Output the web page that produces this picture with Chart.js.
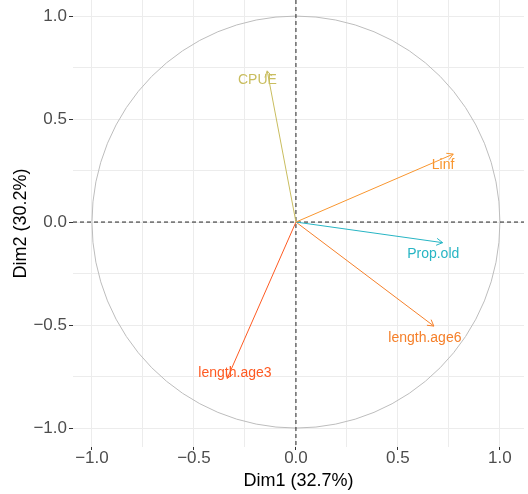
<!DOCTYPE html>
<html lang="en">
<head>
<meta charset="UTF-8">
<title>PCA - Variables</title>
<script src="https://cdn.jsdelivr.net/npm/chart.js@4.4.0/dist/chart.umd.min.js"></script>
<style>
  html, body { margin: 0; padding: 0; background: #fff; }
  #wrap { width: 528px; height: 494px; }
</style>
</head>
<body>
<div id="wrap"><canvas id="pcaChart" width="528" height="494"></canvas></div>
<script>
// variable coordinates on the first two dimensions
const varNames = ['CPUE', 'Linf', 'Prop.old', 'length.age6', 'length.age3'];
const dim1 = [-0.141, 0.771, 0.719, 0.676, -0.337];
const dim2 = [0.734, 0.330, -0.100, -0.505, -0.759];
// where the (repelled) labels sit
const labelDim1 = [-0.189, 0.721, 0.673, 0.632, -0.299];
const labelDim2 = [0.689, 0.277, -0.157, -0.562, -0.732];
const varColors = ['#c9bd5f', '#f9962f', '#27b5c4', '#f5802b', '#fe5a22'];
// grid positions (major ones get a label)
const gridValues = [-1, -0.75, -0.5, -0.25, 0, 0.25, 0.5, 0.75, 1];
const majorValues = [-1, -0.5, 0, 0.5, 1];
const xTitle = 'Dim1 (32.7%)';
const yTitle = 'Dim2 (30.2%)';

const isMajor = v => majorValues.some(m => Math.abs(m - v) < 1e-9);
const fmt = v => isMajor(v) ? (v < 0 ? '\u2212' : '') + Math.abs(v).toFixed(1) : '';

// correlation circle + dashed axes through the origin
const circlePlugin = {
    id: 'circle',
    beforeDatasetsDraw(chart) {
        const { ctx, chartArea: a, scales: { x, y } } = chart;
        const cx = x.getPixelForValue(0), cy = y.getPixelForValue(0);
        const rx = x.getPixelForValue(1) - cx, ry = cy - y.getPixelForValue(1);
        ctx.save();
        ctx.strokeStyle = '#bdbdbd';
        ctx.lineWidth = 1;
        ctx.beginPath();
        ctx.ellipse(cx, cy, rx, ry, 0, 0, Math.PI * 2);
        ctx.stroke();
        ctx.strokeStyle = '#222';
        ctx.setLineDash([4, 3]);
        ctx.beginPath();
        ctx.moveTo(a.left, cy); ctx.lineTo(a.right, cy);
        ctx.moveTo(cx, a.top); ctx.lineTo(cx, a.bottom);
        ctx.stroke();
        ctx.restore();
    },
    afterDatasetsDraw(chart) {
        const { ctx, scales: { x, y } } = chart;
        ctx.save();
        varNames.forEach((name, i) => {
            const x0 = x.getPixelForValue(0), y0 = y.getPixelForValue(0);
            const x1 = x.getPixelForValue(dim1[i]), y1 = y.getPixelForValue(dim2[i]);
            const ang = Math.atan2(y1 - y0, x1 - x0);
            const len = 7, spread = Math.PI / 6;
            ctx.strokeStyle = varColors[i];
            ctx.lineWidth = 1;
            ctx.beginPath();
            ctx.moveTo(x1 - len * Math.cos(ang - spread), y1 - len * Math.sin(ang - spread));
            ctx.lineTo(x1, y1);
            ctx.lineTo(x1 - len * Math.cos(ang + spread), y1 - len * Math.sin(ang + spread));
            ctx.stroke();
            ctx.fillStyle = varColors[i];
            ctx.font = '14px "Liberation Sans", Arial, sans-serif';
            ctx.textAlign = 'center';
            ctx.textBaseline = 'middle';
            ctx.fillText(name, x.getPixelForValue(labelDim1[i]), y.getPixelForValue(labelDim2[i]));
        });
        ctx.restore();
    }
};

const datasets = varNames.map((name, i) => ({
    label: name,
    data: [{ x: 0, y: 0 }, { x: dim1[i], y: dim2[i] }],
    showLine: true,
    borderColor: varColors[i],
    borderWidth: 1,
    pointRadius: 0
}));

const tickFont = { family: '"Liberation Sans", Arial, sans-serif', size: 17 };
const titleFont = { family: '"Liberation Sans", Arial, sans-serif', size: 18 };
const setTicks = s => { s.ticks = gridValues.map(v => ({ value: v })); };

const ctx = document.getElementById('pcaChart').getContext('2d');
const pcaChart = new Chart(ctx, {
    type: 'scatter',
    data: { datasets: datasets },
    options: {
        responsive: false,
        animation: false,
        layout: { padding: { top: 0, right: 4, bottom: 0, left: 0 } },
        plugins: { legend: { display: false }, tooltip: { enabled: false } },
        scales: {
            x: {
                type: 'linear',
                min: -1.093, max: 1.118,
                border: { display: false },
                grid: {
                    color: '#ececec',
                    lineWidth: 1,
                    tickLength: 3,
                    tickColor: c => isMajor(c.tick.value) ? '#333' : 'rgba(0,0,0,0)'
                },
                ticks: {
                    autoSkip: false, maxRotation: 0,
                    padding: -1.5, color: '#4d4d4d', font: tickFont,
                    callback: v => fmt(v)
                },
                afterBuildTicks: setTicks,
                title: { display: true, text: xTitle, color: '#000', font: titleFont, padding: { top: 0, bottom: 2 } },
                afterFit: s => { s.height = 47; s.paddingLeft = 0; s.paddingRight = 0; }
            },
            y: {
                type: 'linear',
                min: -1.092, max: 1.078,
                border: { display: false },
                grid: {
                    color: '#ececec',
                    lineWidth: 1,
                    tickLength: 4,
                    tickColor: c => isMajor(c.tick.value) ? '#333' : 'rgba(0,0,0,0)'
                },
                ticks: {
                    autoSkip: false,
                    padding: 2, color: '#4d4d4d', font: tickFont,
                    callback: v => fmt(v)
                },
                afterBuildTicks: setTicks,
                title: { display: true, text: yTitle, color: '#000', font: titleFont, padding: { top: 10, bottom: 0 } },
                afterFit: s => { s.width = 73; s.paddingTop = 0; s.paddingBottom = 0; }
            }
        }
    },
    plugins: [circlePlugin]
});
</script>
</body>
</html>
